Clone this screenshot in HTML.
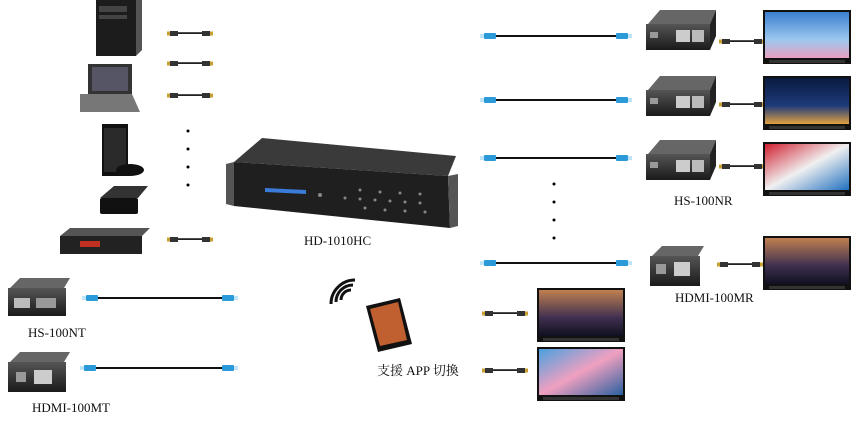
<!DOCTYPE html>
<html><head><meta charset="utf-8"><style>
html,body{margin:0;padding:0;background:#fff;}
svg{display:block;}
text{font-family:"Liberation Serif","Noto Serif CJK SC",serif;font-size:13px;fill:#111;}
</style></head><body>
<svg width="860" height="422" viewBox="0 0 860 422" xmlns="http://www.w3.org/2000/svg">
<defs>
<linearGradient id="dev" x1="0" y1="0" x2="0" y2="1"><stop offset="0" stop-color="#555"/><stop offset="1" stop-color="#1a1a1a"/></linearGradient>
<linearGradient id="sky" x1="0" y1="0" x2="0" y2="1"><stop offset="0" stop-color="#3a7fd0"/><stop offset="0.6" stop-color="#9cc8ee"/><stop offset="1" stop-color="#e8a0c0"/></linearGradient>
<linearGradient id="night" x1="0" y1="0" x2="0" y2="1"><stop offset="0" stop-color="#0a1a40"/><stop offset="0.6" stop-color="#1d3a7a"/><stop offset="1" stop-color="#e0a040"/></linearGradient>
<linearGradient id="flow" x1="0" y1="0" x2="1" y2="1"><stop offset="0" stop-color="#d02030"/><stop offset="0.5" stop-color="#f0f0f0"/><stop offset="1" stop-color="#2070c0"/></linearGradient>
<linearGradient id="dusk" x1="0" y1="0" x2="0" y2="1"><stop offset="0" stop-color="#c08050"/><stop offset="0.6" stop-color="#403050"/><stop offset="1" stop-color="#101020"/></linearGradient>
<linearGradient id="pink" x1="0" y1="0" x2="1" y2="1"><stop offset="0" stop-color="#4aa0e0"/><stop offset="0.5" stop-color="#f0a0c0"/><stop offset="1" stop-color="#2a60a0"/></linearGradient>
<g id="hdmi"><rect x="0" y="-2" width="8" height="5" fill="#333"/><rect x="8" y="-0.8" width="24" height="1.8" fill="#222"/><rect x="32" y="-2" width="8" height="5" fill="#333"/><rect x="-3" y="-1.5" width="3" height="4" fill="#c9a030"/><rect x="40" y="-1.5" width="3" height="4" fill="#c9a030"/></g>
<g id="rj"><rect x="0" y="-3" width="12" height="6" rx="1" fill="#2a9ad8"/><rect x="-4" y="-2" width="4" height="4" fill="#bfe3f7"/></g>
<g id="rx"><path d="M2 14 L14 0 L70 0 L64 14Z" fill="#666"/><rect x="0" y="14" width="64" height="26" fill="url(#dev)"/><rect x="4" y="22" width="8" height="6" fill="#999"/><rect x="30" y="20" width="14" height="12" fill="#ccc"/><rect x="46" y="20" width="12" height="12" fill="#bbb"/><path d="M64 14 L70 0 L70 26 L64 40Z" fill="#222"/></g>
<g id="tv"><rect x="0" y="0" width="88" height="54" fill="#111"/><rect x="6" y="50" width="76" height="3" fill="#333"/></g>
</defs>

<!-- left sources -->
<rect x="96" y="0" width="40" height="56" fill="#1c1c1c"/><rect x="99" y="6" width="28" height="6" fill="#444"/><rect x="99" y="15" width="28" height="4" fill="#444"/><path d="M136 0 L142 -4 L142 50 L136 56Z" fill="#555"/>
<path d="M88 64 L132 64 L132 94 L88 94Z" fill="#333"/><rect x="92" y="67" width="36" height="24" fill="#556"/><path d="M80 94 L132 94 L140 112 L80 112Z" fill="#777"/>
<rect x="102" y="124" width="26" height="52" fill="#111"/><rect x="104" y="128" width="22" height="44" fill="#2a2a2a"/><ellipse cx="130" cy="170" rx="14" ry="6" fill="#111"/>
<path d="M100 198 L114 186 L148 186 L138 198Z" fill="#333"/><rect x="100" y="198" width="38" height="16" rx="2" fill="#111"/>
<path d="M60 236 L70 228 L150 228 L142 236Z" fill="#555"/><rect x="60" y="236" width="82" height="18" fill="#222"/><rect x="80" y="241" width="20" height="6" fill="#c03020"/>
<use href="#hdmi" x="170" y="33"/><use href="#hdmi" x="170" y="63"/><use href="#hdmi" x="170" y="95"/><use href="#hdmi" x="170" y="239"/>
<g fill="#000"><circle cx="188" cy="131" r="1.5"/><circle cx="188" cy="149" r="1.5"/><circle cx="188" cy="167" r="1.5"/><circle cx="188" cy="185" r="1.5"/></g>

<!-- transmitters -->
<g transform="translate(8,278)"><path d="M2 10 L12 0 L62 0 L56 10Z" fill="#666"/><rect x="0" y="10" width="58" height="28" fill="url(#dev)"/><rect x="6" y="20" width="16" height="10" fill="#bbb"/><rect x="28" y="20" width="20" height="10" fill="#999"/></g>
<text x="28" y="337">HS-100NT</text>
<use href="#rj" x="86" y="298"/><line x1="98" y1="298" x2="222" y2="298" stroke="#111" stroke-width="2"/><use href="#rj" x="222" y="298" transform="rotate(180 228 298)"/>
<g transform="translate(8,352)"><path d="M2 10 L12 0 L62 0 L56 10Z" fill="#666"/><rect x="0" y="10" width="58" height="30" fill="url(#dev)"/><rect x="8" y="20" width="10" height="10" fill="#999"/><rect x="26" y="18" width="18" height="14" fill="#ccc"/></g>
<text x="32" y="412">HDMI-100MT</text>
<use href="#rj" x="84" y="368"/><line x1="96" y1="368" x2="222" y2="368" stroke="#111" stroke-width="2"/><use href="#rj" x="222" y="368" transform="rotate(180 228 368)"/>

<!-- main matrix -->
<path d="M234 162 L262 138 L456 156 L448 176Z" fill="#3a3a3a"/>
<path d="M234 162 L448 176 L450 228 L234 206Z" fill="#1f1f1f"/>
<path d="M226 164 L234 162 L234 206 L226 204Z" fill="#555"/>
<path d="M448 176 L458 174 L458 226 L450 228Z" fill="#555"/>
<path d="M265 188 L306 190 L306 194 L265 192Z" fill="#3a7ad8"/>
<g fill="#888"><circle cx="320" cy="195" r="2"/><circle cx="345" cy="198" r="1.5"/><circle cx="360" cy="199" r="1.5"/><circle cx="375" cy="200" r="1.5"/><circle cx="390" cy="201" r="1.5"/><circle cx="405" cy="202" r="1.5"/><circle cx="420" cy="203" r="1.5"/><circle cx="360" cy="190" r="1.5"/><circle cx="380" cy="192" r="1.5"/><circle cx="400" cy="193" r="1.5"/><circle cx="420" cy="194" r="1.5"/><circle cx="365" cy="208" r="1.5"/><circle cx="385" cy="210" r="1.5"/><circle cx="405" cy="211" r="1.5"/><circle cx="425" cy="212" r="1.5"/></g>
<text x="304" y="245" font-size="14">HD-1010HC</text>

<!-- tablet -->
<g fill="none" stroke="#111" stroke-width="3"><path d="M341 300 A10 10 0 0 1 351 290"/><path d="M336 302 A17 17 0 0 1 353 285"/><path d="M331 304 A24 24 0 0 1 355 280"/></g>
<path d="M366 306 L400 298 L412 344 L378 352Z" fill="#111"/><path d="M370 309 L398 302 L407 340 L380 346Z" fill="#c06030"/>
<text x="377" y="375">支援 APP 切換</text>

<!-- right RJ cables -->
<g>
<use href="#rj" x="484" y="36"/><line x1="496" y1="36" x2="616" y2="36" stroke="#111" stroke-width="2"/><use href="#rj" x="616" y="36" transform="rotate(180 622 36)"/>
<use href="#rj" x="484" y="100"/><line x1="496" y1="100" x2="616" y2="100" stroke="#111" stroke-width="2"/><use href="#rj" x="616" y="100" transform="rotate(180 622 100)"/>
<use href="#rj" x="484" y="158"/><line x1="496" y1="158" x2="616" y2="158" stroke="#111" stroke-width="2"/><use href="#rj" x="616" y="158" transform="rotate(180 622 158)"/>
<use href="#rj" x="484" y="263"/><line x1="496" y1="263" x2="616" y2="263" stroke="#111" stroke-width="2"/><use href="#rj" x="616" y="263" transform="rotate(180 622 263)"/>
</g>
<g fill="#000"><circle cx="554" cy="184" r="1.5"/><circle cx="554" cy="202" r="1.5"/><circle cx="554" cy="220" r="1.5"/><circle cx="554" cy="238" r="1.5"/></g>

<use href="#rx" x="646" y="10"/><use href="#rx" x="646" y="76"/><use href="#rx" x="646" y="140"/>
<text x="674" y="205">HS-100NR</text>
<g transform="translate(650,246)"><path d="M2 10 L12 0 L54 0 L48 10Z" fill="#666"/><rect x="0" y="10" width="50" height="30" fill="url(#dev)"/><rect x="6" y="18" width="10" height="10" fill="#999"/><rect x="24" y="16" width="16" height="14" fill="#ccc"/></g>
<text x="675" y="302">HDMI-100MR</text>

<use href="#hdmi" x="722" y="41"/><use href="#hdmi" x="722" y="104"/><use href="#hdmi" x="722" y="166"/><use href="#hdmi" x="720" y="264"/>

<use href="#tv" x="763" y="10"/><rect x="765" y="12" width="84" height="46" fill="url(#sky)"/>
<use href="#tv" x="763" y="76"/><rect x="765" y="78" width="84" height="46" fill="url(#night)"/>
<use href="#tv" x="763" y="142"/><rect x="765" y="144" width="84" height="46" fill="url(#flow)"/>
<use href="#tv" x="763" y="236"/><rect x="765" y="238" width="84" height="46" fill="url(#dusk)"/>

<use href="#hdmi" x="485" y="313"/><use href="#hdmi" x="485" y="370"/>
<use href="#tv" x="537" y="288"/><rect x="539" y="290" width="84" height="46" fill="url(#dusk)"/>
<use href="#tv" x="537" y="347"/><rect x="539" y="349" width="84" height="46" fill="url(#pink)"/>
</svg>
</body></html>
